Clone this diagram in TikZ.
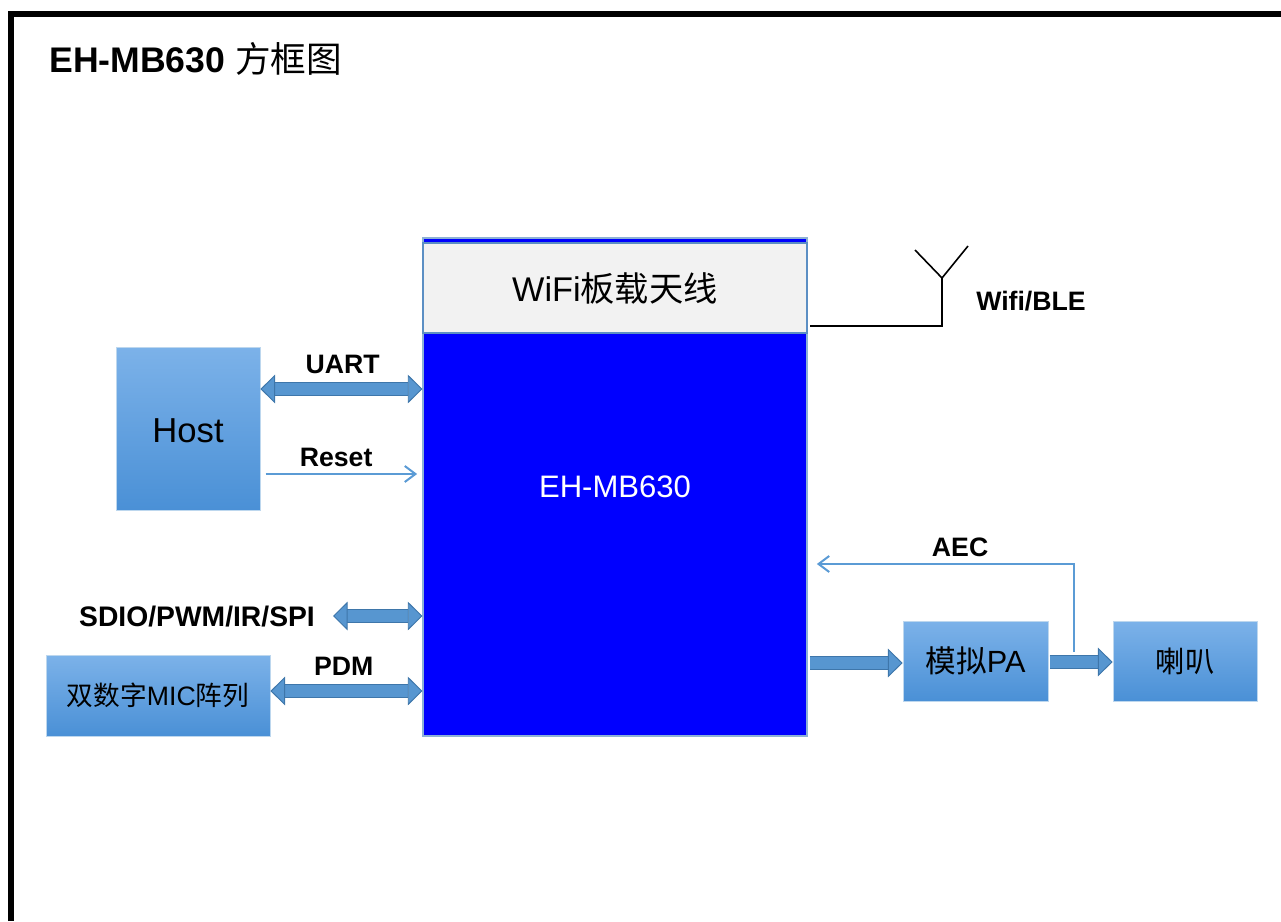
\documentclass[tikz,border=0pt]{standalone}
\usepackage{fontspec}
\setmainfont{Liberation Sans}
\newfontfamily\cjk{Noto Sans CJK SC}
\usetikzlibrary{arrows.meta,positioning,calc}
\definecolor{coreB}{RGB}{0,0,255}
\definecolor{edgeB}{RGB}{92,143,196}
\definecolor{pipeB}{RGB}{87,150,208}
\definecolor{pipeE}{RGB}{62,118,170}
\definecolor{wireB}{RGB}{91,155,213}
\definecolor{capG}{RGB}{242,242,242}
\definecolor{blkT}{RGB}{124,178,233}
\definecolor{blkM}{RGB}{88,162,232}
\definecolor{blkL}{RGB}{74,144,214}

\begin{document}
\begin{tikzpicture}[x=0.75pt, y=-0.75pt,
  blk/.style={rectangle, draw=wireB!40, line width=0.6pt, align=center, inner sep=0pt,
              top color=blkT, middle color=blkM, bottom color=blkL},
  sig/.style={font=\fontsize{20}{24}\selectfont\bfseries, inner sep=0pt},
  tipL/.tip={Triangle[length=11pt, width=21.5pt, fill=pipeB, color=pipeE, line width=0.7pt]},
  pipe/.style={draw=pipeE, line width=0.7pt, double=pipeB, double distance=9.5pt},
  wire/.style={draw=wireB, line width=1.5pt, -{Straight Barb[length=8pt, width=12pt, line width=1.5pt]}}]
  \useasboundingbox (0,0) rectangle (1281,921);
  % frame
  \coordinate (fA) at (11,921);
  \coordinate (fB) at (11,14);
  \coordinate (fC) at (1281,14);
  \draw[line width=4.2pt, line join=miter] (fA) -- (fB) -- (fC);
  \node[anchor=west, inner sep=0pt, font=\fontsize{26.7}{30}\selectfont] (title) at (49,59)
    {\textbf{EH-MB630} {\cjk 方框图}};
  % blocks
  \node[rectangle, draw=edgeB!70, line width=0.8pt, fill=coreB, text=white, inner sep=0pt,
        minimum width=288pt, minimum height=373.5pt, font=\fontsize{23.3}{28}\selectfont] (mb630) at (615,487) {EH-MB630};
  \node[rectangle, draw=edgeB, line width=0.8pt, fill=capG, inner sep=0pt,
        minimum width=288pt, minimum height=67.5pt, font=\fontsize{25.7}{30}\selectfont] (wifi) at (615,288) {WiFi{\cjk 板载天线}};
  \node[blk, minimum width=108pt, minimum height=122.25pt, text height=21.6pt, text depth=0pt,
        font=\fontsize{26}{30}\selectfont] (host) at (188,428.5) {Host};
  \node[blk, minimum width=168pt, minimum height=60.75pt, font=\fontsize{20}{24}\selectfont] (mic) at (158,695.5) {{\cjk 双数字}MIC{\cjk 阵列}};
  \node[blk, minimum width=108.75pt, minimum height=60pt, font=\fontsize{23}{28}\selectfont] (pa) at (975.5,661) {{\cjk 模拟}PA};
  \node[blk, minimum width=108pt, minimum height=60pt, font=\fontsize{22}{26}\selectfont] (spk) at (1185,661) {\cjk 喇叭};
  % free labels
  \node[sig, font=\fontsize{21.2}{24}\selectfont\bfseries] (sdio) at (197,617) {SDIO/PWM/IR/SPI};
  \node[sig] (ble) at (1031,301) {Wifi/BLE};
  % fat links
  \draw[pipe, {tipL}-{tipL}] (host.east |- 0,389) -- node[sig, above=11pt, xshift=1pt] (uart) {UART} (mb630.west |- 0,389);
  \draw[pipe, {tipL}-{tipL}] (333,616) -- (mb630.west |- 0,616);
  \draw[pipe, {tipL}-{tipL}] (mic.east |- 0,691) -- node[sig, above=11.2pt, xshift=-2pt] (pdm) {PDM} (mb630.west |- 0,691);
  \draw[pipe, -{tipL}] ([xshift=1.5pt]mb630.east |- 0,663) -- (pa.west |- 0,663);
  \draw[pipe, -{tipL}] ([xshift=1pt]pa.east |- 0,662) -- (spk.west |- 0,662);
  % thin links
  \draw[wire] ([xshift=4pt]host.east |- 0,474) -- node[sig, above=5pt, xshift=-4pt] (rst) {Reset} ([xshift=-4pt]mb630.west |- 0,474);
  \coordinate (aecT) at (1074,564);
  \coordinate (aecS) at (1074,652);
  \draw[wire] (aecS) -- (aecT) -- node[sig, above=5pt, xshift=11pt] (aec) {AEC} ([xshift=7pt]mb630.east |- aecT);
  % antenna
  \coordinate (antB) at (942,326);
  \coordinate (antT) at (942,278);
  \coordinate (antL) at (915,250);
  \coordinate (antR) at (968,246);
  \draw[line width=1.2pt] ([xshift=2pt]wifi.east |- antB) -- (antB) -- (antT) -- (antL);
  \draw[line width=1.2pt] (antT) -- (antR);
\end{tikzpicture}
\end{document}
